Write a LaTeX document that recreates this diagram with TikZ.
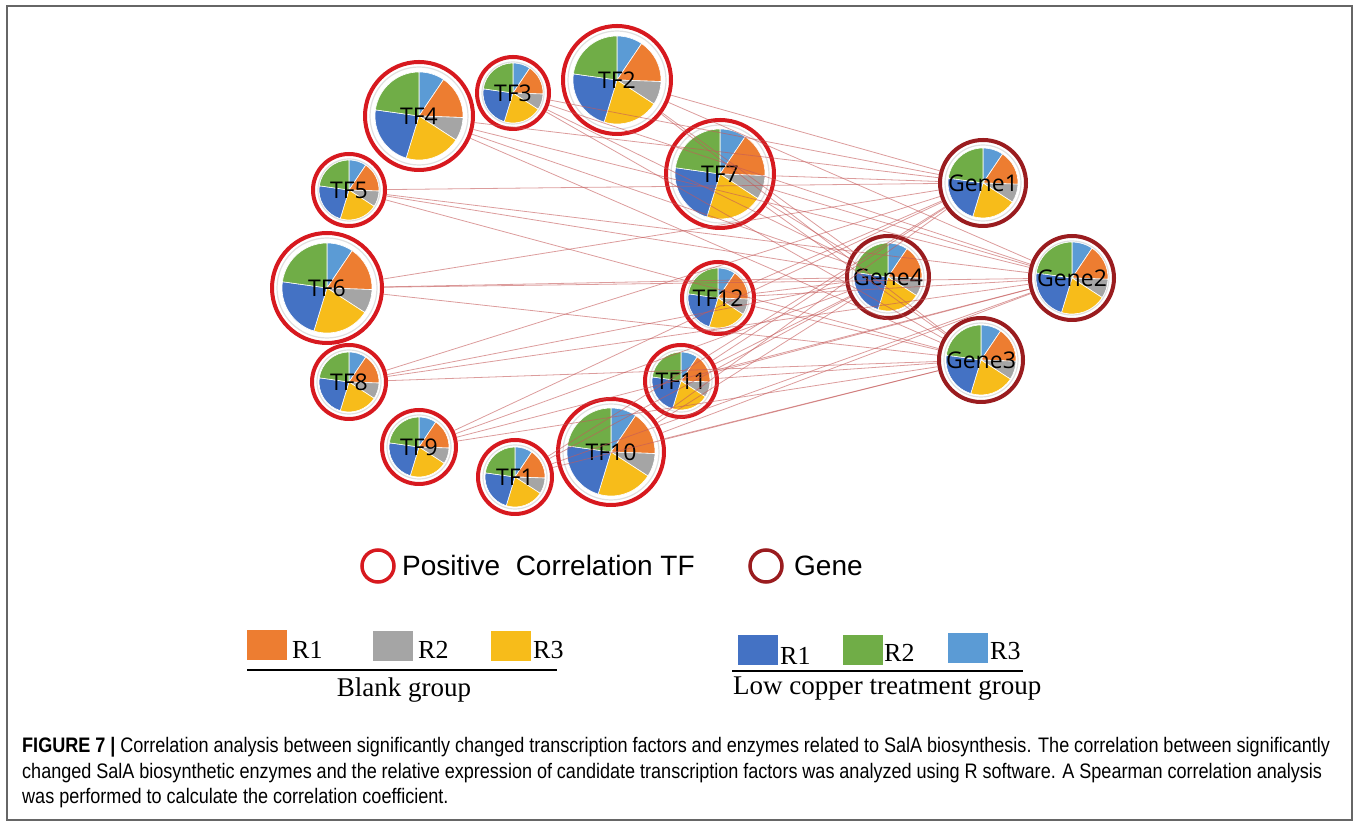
\documentclass[tikz,border=0pt]{standalone}
\usepackage{fontspec}
\newfontfamily\labfont{Open Sans}
\newfontfamily\legfont{Liberation Sans}
\newfontfamily\serfont{Liberation Serif}
\newfontfamily\capfont[FakeStretch=0.86]{Liberation Sans}
\definecolor{cLB}{HTML}{5B9BD5}
\definecolor{cOR}{HTML}{ED7D31}
\definecolor{cGR}{HTML}{A5A5A5}
\definecolor{cYE}{HTML}{F7BC1A}
\definecolor{cBL}{HTML}{4472C4}
\definecolor{cGN}{HTML}{70AD47}
\definecolor{tfred}{HTML}{D7191F}
\definecolor{genered}{HTML}{9A1C1F}
\definecolor{edgecol}{HTML}{C45A5A}
\definecolor{framegray}{HTML}{666666}
\newcommand{\pieat}[3]{%
  \foreach \sa/\sb/\sc in {90/56/cLB,56/-2/cOR,-2/-33/cGR,-33/-107/cYE,-107/-188/cBL,-188/-270/cGN}{%
    \filldraw[fill=\sc,draw=white,line width=0.6pt] (#1,#2) -- ++(\sa:#3) arc[start angle=\sa,end angle=\sb,radius=#3] -- cycle;}%
}
\newcommand{\netnode}[7]{%
  \draw[black!12, line width=1.2pt] (#2,#3) circle ({#4/2-5});
  \pieat{#2}{#3}{#5}
  \node[#7, minimum size=#4 pt] (#1) at (#2,#3) {#6};
}
\begin{document}
\begin{tikzpicture}[x=1pt,y=1pt,
  tfring/.style={circle, draw=tfred, line width=4pt, inner sep=0pt, font=\labfont\fontsize{23}{23}\selectfont},
  genering/.style={circle, draw=genered, line width=4pt, inner sep=0pt, font=\labfont\fontsize{23}{23}\selectfont},
  edge/.style={draw=edgecol, line width=0.8pt, opacity=0.6},
  legsq/.style={inner sep=0pt, minimum width=40pt, minimum height=30pt, anchor=south west},
  rlab/.style={anchor=base west, inner sep=0pt, font=\serfont\fontsize{26}{26}\selectfont},
  grlab/.style={anchor=base west, inner sep=0pt, font=\serfont\fontsize{27}{27}\selectfont},
  leglab/.style={anchor=base west, inner sep=0pt, font=\legfont\fontsize{28}{28}\selectfont},
  caplab/.style={anchor=base west, inner sep=0pt, font=\capfont\fontsize{21}{21}\selectfont}
]
\useasboundingbox (0,0) rectangle (1358,827);
\draw[framegray, line width=1.5pt] (7,7) rectangle (1352,821);

% nodes
\netnode{tf4}{419}{711}{108}{44}{TF4}{tfring}
\netnode{tf3}{513}{734}{72}{30}{TF3}{tfring}
\netnode{tf2}{617}{747}{108}{44}{TF2}{tfring}
\netnode{tf7}{720}{653}{108}{45}{TF7}{tfring}
\netnode{tf5}{349}{637}{72}{30}{TF5}{tfring}
\netnode{tf6}{327}{539}{110}{45}{TF6}{tfring}
\netnode{tf12}{718}{529}{72}{30}{TF12}{tfring}
\netnode{tf8}{349}{445}{74}{30}{TF8}{tfring}
\netnode{tf11}{681}{446}{72}{29}{TF11}{tfring}
\netnode{tf9}{419}{380}{74}{30}{TF9}{tfring}
\netnode{tf10}{611}{375}{106}{44}{TF10}{tfring}
\netnode{tf1}{515}{350}{74}{30}{TF1}{tfring}
\netnode{gene1}{983}{644}{86}{35}{Gene1}{genering}
\netnode{gene4}{888}{550}{82}{34}{Gene4}{genering}
\netnode{gene2}{1072}{549}{84}{36}{Gene2}{genering}
\netnode{gene3}{981}{467}{84}{35}{Gene3}{genering}

% edges
\foreach \t in {tf1,tf2,tf3,tf4,tf5,tf6,tf7,tf8,tf9,tf10,tf11,tf12}{
  \foreach \g in {gene1,gene2,gene3,gene4}{
    \draw[edge] (\t) -- (\g);
  }
}

% legend: circles
\node[circle, draw=tfred, line width=3.5pt, minimum size=32pt, inner sep=0pt] (legtf) at (378,261) {};
\node[leglab] (legtftext) at (402,251) {Positive\ \ Correlation TF};
\node[circle, draw=genered, line width=3.5pt, minimum size=32pt, inner sep=0pt] (leggene) at (766,261) {};
\node[leglab] (leggenetext) at (794,251) {Gene};

% legend: blank group
\node[legsq, fill=cOR] (b1) at (247,167) {};
\node[rlab] (b1t) at (292,168) {R1};
\node[legsq, fill=cGR] (b2) at (373,166) {};
\node[rlab] (b2t) at (418,168) {R2};
\node[legsq, fill=cYE] (b3) at (491,166) {};
\node[rlab] (b3t) at (533,168) {R3};
\coordinate (bl1) at (247,157);
\coordinate (bl2) at (557,157);
\draw[line width=1.5pt] (bl1) -- (bl2);
\node[grlab, anchor=base] (blank) at (404,130) {Blank group};

% legend: low copper
\node[legsq, fill=cBL] (l1) at (738,162) {};
\node[rlab] (l1t) at (780,162) {R1};
\node[legsq, fill=cGN] (l2) at (843,162) {};
\node[rlab] (l2t) at (884,165) {R2};
\node[legsq, fill=cLB] (l3) at (948,164) {};
\node[rlab] (l3t) at (990,167) {R3};
\coordinate (ll1) at (732,156);
\coordinate (ll2) at (1023,156);
\draw[line width=1.5pt] (ll1) -- (ll2);
\node[grlab] (lowcu) at (733,132) {Low copper treatment group};

% caption
\node[caplab] (cap1) at (22,74) {\makebox[1308pt][s]{\textbf{FIGURE 7 |} Correlation analysis between significantly changed transcription factors and enzymes related to SalA biosynthesis. The correlation between significantly}};
\node[caplab] (cap2) at (22,48) {\makebox[1300pt][s]{changed SalA biosynthetic enzymes and the relative expression of candidate transcription factors was analyzed using R software. A Spearman correlation analysis}};
\node[caplab] (cap3) at (22,23) {was performed to calculate the correlation coefficient.};
\end{tikzpicture}
\end{document}
